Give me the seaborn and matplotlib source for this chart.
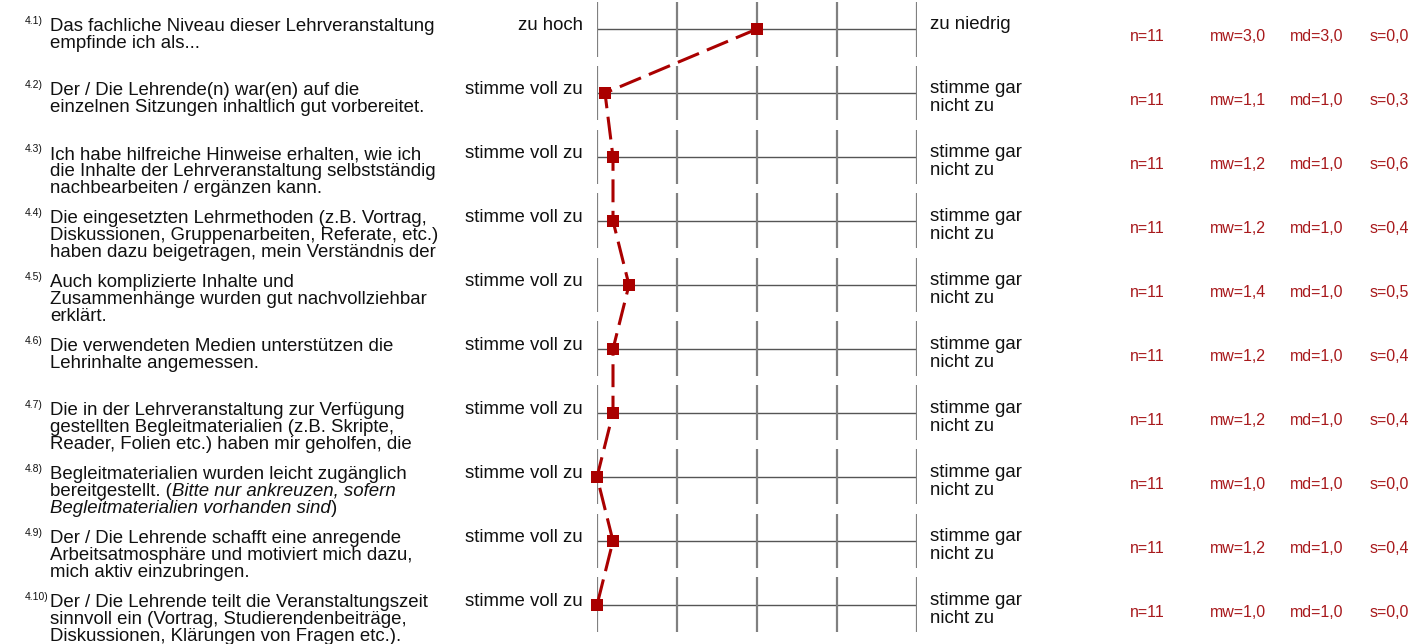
import numpy as np
import pandas as pd
import matplotlib
matplotlib.use('Agg')
import matplotlib.pyplot as plt
import matplotlib.transforms as mtransforms
import seaborn as sns

# ----------------------- data ------------------------
item_ids = ['4.1)', '4.2)', '4.3)', '4.4)', '4.5)', '4.6)', '4.7)', '4.8)', '4.9)', '4.10)']
questions = [
    ['Das fachliche Niveau dieser Lehrveranstaltung', 'empfinde ich als...'],
    ['Der / Die Lehrende(n) war(en) auf die', 'einzelnen Sitzungen inhaltlich gut vorbereitet.'],
    ['Ich habe hilfreiche Hinweise erhalten, wie ich', 'die Inhalte der Lehrveranstaltung selbstständig',
     'nachbearbeiten / ergänzen kann.'],
    ['Die eingesetzten Lehrmethoden (z.B. Vortrag,', 'Diskussionen, Gruppenarbeiten, Referate, etc.)',
     'haben dazu beigetragen, mein Verständnis der'],
    ['Auch komplizierte Inhalte und', 'Zusammenhänge wurden gut nachvollziehbar', 'erklärt.'],
    ['Die verwendeten Medien unterstützen die', 'Lehrinhalte angemessen.'],
    ['Die in der Lehrveranstaltung zur Verfügung', 'gestellten Begleitmaterialien (z.B. Skripte,',
     'Reader, Folien etc.) haben mir geholfen, die'],
    # (text, italic) segments per line
    [[('Begleitmaterialien wurden leicht zugänglich', False)],
     [('bereitgestellt. (', False), ('Bitte nur ankreuzen, sofern', True)],
     [('Begleitmaterialien vorhanden sind', True), (')', False)]],
    ['Der / Die Lehrende schafft eine anregende', 'Arbeitsatmosphäre und motiviert mich dazu,',
     'mich aktiv einzubringen.'],
    ['Der / Die Lehrende teilt die Veranstaltungszeit', 'sinnvoll ein (Vortrag, Studierendenbeiträge,',
     'Diskussionen, Klärungen von Fragen etc.).'],
]
left_labels = ['zu hoch'] + ['stimme voll zu'] * 9
right_labels = [['zu niedrig']] + [['stimme gar', 'nicht zu']] * 9
n_vals = [11, 11, 11, 11, 11, 11, 11, 11, 11, 11]
mw_vals = [3.0, 1.1, 1.2, 1.2, 1.4, 1.2, 1.2, 1.0, 1.2, 1.0]
md_vals = [3.0, 1.0, 1.0, 1.0, 1.0, 1.0, 1.0, 1.0, 1.0, 1.0]
s_vals = [0.0, 0.3, 0.6, 0.4, 0.5, 0.4, 0.4, 0.0, 0.4, 0.0]
scale = [1, 2, 3, 4, 5]

# ----------------------- style ------------------------
sns.set_style('white')
plt.rcParams['font.family'] = ['Liberation Sans', 'DejaVu Sans']

W, H = 1425, 644
ROW0, ROWH = 29, 64
RED = '#aa0000'
STAT_RED = '#a8191c'
TXT = '#111111'
FS = 13.4
FS_STAT = 11.5

fig = plt.figure(figsize=(W / 100, H / 100), dpi=100)
ax = fig.add_axes([597 / W, 0, 320 / W, 1])
ax.set_xlim(1, 5)
ax.set_ylim((H - ROW0) / ROWH, -ROW0 / ROWH)
ax.axis('off')

rows = np.arange(len(item_ids))

# scale grid
for r in rows:
    ax.hlines(r, scale[0], scale[-1], colors='#555555', linewidth=1.0, zorder=1)
    ax.vlines(scale, r - 27.5 / ROWH, r + 27.5 / ROWH, colors='#808080', linewidth=1.6, zorder=1)

# mean profile
df = pd.DataFrame({'mw': mw_vals, 'row': rows})
sns.lineplot(data=df, x='mw', y='row', sort=False, estimator=None, ax=ax, color=RED,
             linewidth=2.2, linestyle=(0, (7.5, 2.8)), marker='s', markersize=8,
             markeredgewidth=0, markerfacecolor=RED, clip_on=False, zorder=3)
ax.set(xlabel='', ylabel='')

# texts: x in pixels (figure), y in rows + pixel offsets
trans = mtransforms.blended_transform_factory(fig.transFigure, ax.transData)


def put(px, r, dy, s, **kw):
    return ax.text(px / W, r + dy / ROWH, s, transform=trans, **kw)


def fmt(v):
    return f'{v:.1f}'.replace('.', ',')


for i, r in enumerate(rows):
    put(25, r, -5, item_ids[i], fontsize=7.5, va='baseline', ha='left', color=TXT)
    q = questions[i]
    for k, line in enumerate(q):
        dy = 2 + 17 * k
        if isinstance(line, str):
            put(50, r, dy, line, fontsize=FS, va='baseline', ha='left', color=TXT)
        else:
            prev = None
            for seg, it in line:
                style = 'italic' if it else 'normal'
                if prev is None:
                    prev = put(50, r, dy, seg, fontsize=FS, va='baseline', ha='left',
                               color=TXT, style=style)
                else:
                    prev = ax.annotate(seg, xy=(1, 0), xycoords=prev, va='bottom', ha='left',
                                       fontsize=FS, color=TXT, style=style)
    put(583, r, 1, left_labels[i], fontsize=FS, va='baseline', ha='right', color=TXT)
    for k, line in enumerate(right_labels[i]):
        put(930, r, 0 + 18 * k, line, fontsize=FS, va='baseline', ha='left', color=TXT)
    put(1130, r, 12, f'n={n_vals[i]}', fontsize=FS_STAT, va='baseline', ha='left', color=STAT_RED)
    put(1210, r, 12, f'mw={fmt(mw_vals[i])}', fontsize=FS_STAT, va='baseline', ha='left', color=STAT_RED)
    put(1290, r, 12, f'md={fmt(md_vals[i])}', fontsize=FS_STAT, va='baseline', ha='left', color=STAT_RED)
    put(1370, r, 12, f's={fmt(s_vals[i])}', fontsize=FS_STAT, va='baseline', ha='left', color=STAT_RED)

fig.savefig('out.png', dpi=100, facecolor='white')
